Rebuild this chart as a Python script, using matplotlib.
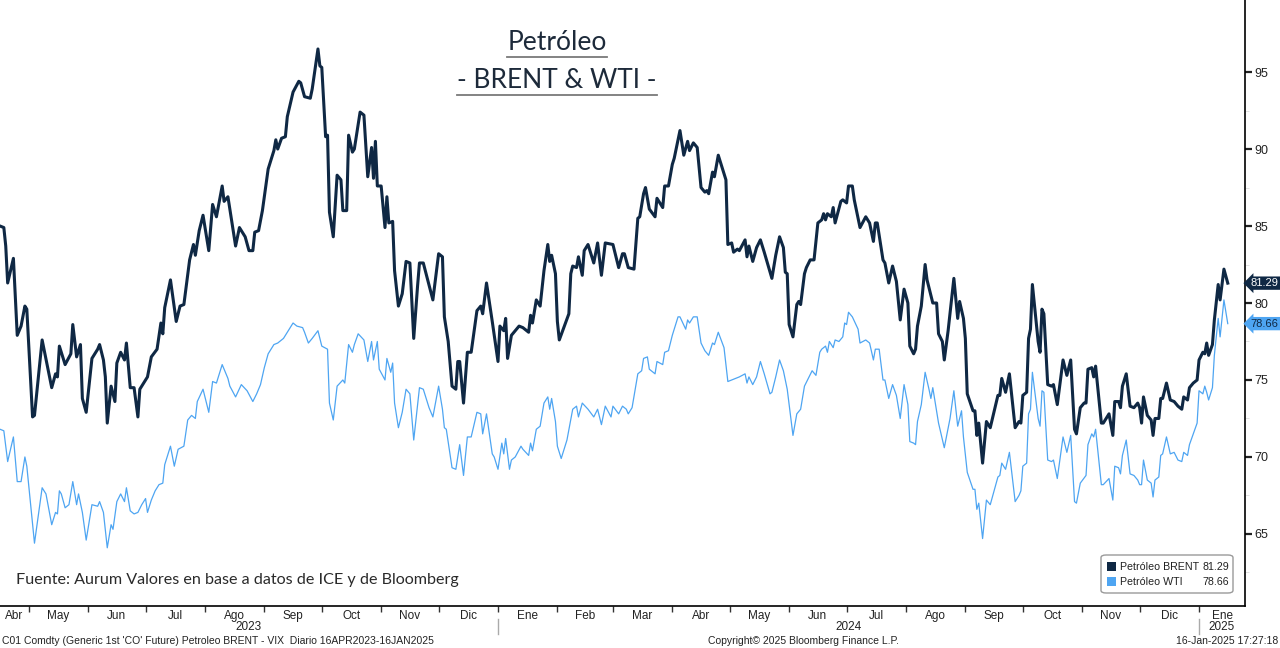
import matplotlib
matplotlib.use("Agg")
import matplotlib.pyplot as plt
import pandas as pd
from matplotlib.patches import FancyBboxPatch, Rectangle
from matplotlib.lines import Line2D
from matplotlib.transforms import blended_transform_factory, IdentityTransform

# dias desde el 16-abr-2023
start = pd.Timestamp("2023-04-16")
end_axis = pd.Timestamp("2025-01-25")

brent_day = [0, 2, 3, 4, 7, 9, 11, 13, 14, 17, 18, 22, 27, 29, 30, 31, 34, 37, 38, 40,
             42, 43, 45, 48, 51, 52, 54, 55, 56, 58, 60, 61, 63, 65, 66, 68, 70, 72, 73, 77,
             79, 82, 84, 85, 86, 89, 92, 94, 96, 99, 101, 102, 104, 106, 109, 111, 113, 116, 117, 119,
             123, 125, 128, 130, 132, 133, 135, 137, 140, 143, 144, 145, 147, 149, 150, 153, 156, 157, 159, 162,
             163, 166, 167, 168, 170, 171, 172, 174, 176, 178, 179, 181, 182, 184, 185, 188, 190, 192, 194, 195,
             196, 197, 199, 201, 202, 203, 205, 206, 208, 210, 212, 214, 216, 218, 219, 221, 226, 229, 231, 232,
             234, 236, 238, 239, 240, 242, 244, 246, 249, 251, 252, 254, 257, 260, 261, 263, 264, 265, 267, 271,
             273, 276, 277, 278, 280, 282, 284, 286, 287, 288, 290, 291, 292, 297, 298, 299, 301, 302, 304, 305,
             307, 310, 312, 314, 316, 320, 321, 323, 325, 326, 328, 331, 333, 334, 336, 337, 339, 342, 343, 346,
             347, 349, 351, 352, 355, 357, 359, 360, 362, 364, 366, 368, 369, 370, 372, 373, 375, 379, 380, 382,
             383, 385, 386, 389, 390, 391, 393, 395, 397, 399, 403, 405, 407, 409, 410, 411, 412, 414, 416, 417,
             418, 420, 421, 423, 425, 427, 429, 430, 431, 432, 434, 435, 436, 439, 440, 442, 443, 445, 446, 449,
             452, 454, 456, 457, 458, 461, 462, 464, 466, 468, 470, 472, 474, 475, 477, 478, 479, 481, 483, 484,
             487, 489, 490, 492, 493, 495, 498, 500, 501, 503, 504, 505, 508, 509, 510, 511, 513, 515, 517, 521,
             522, 523, 525, 527, 530, 532, 533, 534, 536, 537, 538, 539, 542, 543, 544, 545, 547, 549, 550, 552,
             555, 557, 559, 561, 562, 564, 566, 567, 568, 570, 571, 572, 575, 576, 579, 581, 582, 584, 585, 586,
             588, 590, 592, 594, 595, 596, 597, 599, 601, 602, 603, 605, 606, 607, 609, 611, 613, 615, 617, 618,
             620, 621, 623, 625, 626, 628, 629, 630, 631, 633, 634, 636, 637, 639, 641]
brent_val = [85.0, 84.9, 83.7, 81.3, 82.9, 77.9, 78.5, 79.8, 79.6, 72.6, 72.7, 77.6, 74.5, 75.4, 75.2, 77.2, 76.0, 76.7, 78.6, 76.5,
             77.3, 73.8, 72.9, 76.4, 77.0, 77.3, 76.3, 75.2, 72.2, 74.6, 73.6, 76.1, 76.8, 76.3, 77.4, 74.5, 74.5, 72.6, 74.4, 75.2,
             76.5, 77.0, 78.7, 78.0, 79.7, 81.5, 78.8, 79.8, 79.9, 82.8, 83.8, 83.1, 84.7, 85.7, 83.4, 86.4, 85.6, 87.6, 86.6, 86.9,
             83.7, 84.9, 84.3, 83.4, 83.4, 84.6, 84.7, 86.0, 88.7, 89.9, 90.6, 90.0, 90.7, 90.8, 92.1, 93.7, 94.4, 94.3, 93.4, 93.3,
             93.9, 96.5, 95.4, 95.3, 90.8, 90.9, 85.9, 84.3, 88.3, 88.0, 86.0, 86.0, 90.9, 89.8, 90.0, 92.4, 92.2, 88.2, 90.1, 88.1,
             90.5, 87.6, 87.6, 84.9, 86.9, 85.2, 85.3, 82.1, 79.8, 80.6, 82.7, 82.6, 77.7, 81.1, 82.6, 82.6, 80.2, 83.2, 83.0, 79.1,
             77.5, 74.6, 74.4, 76.2, 76.2, 73.5, 76.8, 76.8, 79.5, 79.8, 79.3, 81.3, 78.8, 76.2, 78.5, 78.2, 79.0, 76.4, 77.9, 78.5,
             78.4, 78.1, 79.2, 78.7, 80.2, 79.8, 82.1, 83.8, 82.7, 83.1, 81.9, 78.8, 77.6, 79.3, 81.9, 82.4, 82.3, 83.0, 81.8, 83.4,
             83.8, 82.6, 83.9, 81.8, 83.9, 83.8, 83.3, 82.3, 83.2, 83.2, 82.3, 82.2, 85.5, 85.6, 87.1, 87.5, 86.1, 85.6, 86.8, 86.2,
             87.6, 87.6, 89.0, 89.4, 91.2, 89.6, 90.5, 89.9, 90.4, 90.1, 87.5, 87.2, 87.3, 87.1, 88.5, 88.2, 89.6, 88.0, 83.8, 83.9,
             83.3, 83.5, 83.4, 84.1, 83.0, 83.7, 82.7, 83.6, 84.1, 83.3, 81.6, 83.1, 84.3, 83.6, 82.0, 81.9, 78.6, 77.8, 79.9, 80.1,
             79.9, 81.9, 82.3, 82.8, 82.8, 85.2, 85.4, 85.8, 85.4, 85.8, 85.6, 86.2, 85.2, 86.6, 86.7, 86.5, 87.6, 87.6, 86.7, 84.9,
             85.6, 85.2, 84.0, 85.2, 85.2, 82.8, 82.6, 81.3, 82.4, 81.4, 78.9, 80.9, 80.0, 77.2, 76.7, 77.0, 78.5, 79.8, 82.5, 81.5,
             80.0, 80.0, 78.0, 77.5, 76.3, 78.2, 81.6, 79.0, 80.1, 79.0, 77.7, 74.1, 73.0, 73.0, 71.4, 72.2, 69.6, 72.3, 71.9, 74.0,
             74.0, 75.1, 74.2, 75.4, 71.9, 72.3, 72.2, 74.0, 74.2, 77.7, 78.3, 81.2, 77.5, 76.8, 79.6, 79.3, 74.7, 74.6, 74.7, 73.4,
             76.3, 75.3, 76.3, 71.8, 71.5, 73.2, 73.5, 73.5, 75.7, 75.8, 75.2, 75.9, 72.2, 72.2, 72.8, 71.4, 73.6, 73.6, 73.2, 74.6,
             75.4, 73.3, 73.2, 73.5, 73.2, 72.2, 73.9, 72.7, 72.4, 71.4, 72.5, 72.5, 73.8, 73.8, 74.8, 73.7, 73.6, 73.3, 73.1, 73.9,
             73.7, 74.5, 74.8, 75.0, 76.3, 76.8, 76.7, 77.4, 76.6, 77.3, 78.9, 81.2, 80.2, 82.2, 81.29]

wti_day = [0, 2, 4, 7, 9, 11, 13, 14, 18, 22, 24, 27, 29, 30, 31, 32, 34, 36, 38, 40,
           41, 43, 45, 48, 51, 52, 54, 56, 58, 59, 61, 63, 65, 66, 68, 70, 72, 74, 76, 77,
           79, 81, 83, 85, 86, 89, 91, 93, 96, 98, 100, 102, 103, 106, 109, 111, 113, 116, 119, 120,
           123, 126, 129, 132, 134, 136, 138, 140, 143, 145, 148, 150, 153, 155, 158, 159, 161, 163, 166, 168,
           171, 172, 174, 176, 179, 180, 182, 184, 185, 187, 190, 192, 194, 195, 197, 198, 201, 202, 204, 205,
           206, 208, 210, 212, 214, 216, 219, 221, 224, 226, 229, 231, 232, 233, 236, 238, 240, 242, 244, 246,
           249, 251, 252, 254, 257, 258, 260, 262, 263, 264, 266, 267, 269, 272, 273, 276, 277, 278, 280, 282,
           284, 286, 287, 288, 290, 291, 293, 296, 299, 301, 302, 304, 307, 310, 312, 314, 316, 319, 320, 323,
           325, 327, 328, 330, 333, 335, 336, 338, 339, 342, 343, 346, 347, 349, 351, 354, 355, 358, 359, 360,
           362, 364, 366, 368, 370, 372, 373, 375, 378, 380, 382, 384, 386, 389, 390, 391, 393, 395, 397, 399,
           402, 403, 405, 407, 409, 411, 413, 414, 416, 418, 420, 422, 424, 426, 428, 429, 431, 432, 433, 435,
           436, 438, 440, 441, 442, 443, 445, 448, 449, 452, 454, 456, 457, 459, 461, 462, 464, 466, 468, 470,
           472, 474, 475, 477, 478, 479, 481, 483, 485, 486, 487, 490, 493, 496, 498, 500, 502, 503, 505, 508,
           509, 510, 511, 513, 515, 517, 521, 522, 523, 525, 527, 530, 532, 533, 534, 536, 537, 538, 539, 542,
           543, 544, 545, 547, 549, 550, 552, 555, 557, 559, 561, 562, 564, 567, 568, 570, 571, 572, 575, 576,
           579, 581, 582, 584, 585, 586, 588, 590, 592, 594, 595, 596, 597, 599, 601, 602, 603, 605, 606, 607,
           609, 611, 613, 615, 617, 618, 620, 621, 623, 625, 626, 628, 629, 630, 631, 633, 634, 636, 637, 639,
           641]
wti_val = [71.8, 71.7, 69.7, 71.3, 68.4, 68.4, 70.0, 69.4, 64.4, 68.0, 67.6, 65.6, 66.4, 66.3, 67.8, 67.6, 66.7, 66.9, 68.4, 66.9,
           67.6, 66.4, 64.6, 66.9, 66.8, 67.1, 66.4, 64.1, 65.6, 65.3, 67.1, 67.6, 67.1, 68.0, 66.5, 66.3, 66.4, 66.9, 67.3, 66.4,
           67.2, 67.8, 68.2, 68.3, 69.5, 70.7, 69.4, 70.5, 70.7, 72.4, 72.7, 72.5, 73.6, 74.4, 72.9, 74.9, 74.8, 76.0, 75.1, 74.6,
           73.9, 74.7, 74.3, 73.6, 74.1, 74.7, 75.8, 76.7, 77.3, 77.4, 77.7, 78.1, 78.7, 78.5, 78.4, 78.1, 77.4, 77.7, 78.2, 77.2,
           77.0, 73.5, 72.4, 74.6, 75.0, 74.8, 77.3, 76.8, 77.3, 78.0, 77.6, 76.2, 77.5, 76.3, 77.5, 75.7, 75.0, 76.4, 75.5, 76.1,
           73.5, 71.9, 72.9, 74.4, 74.1, 71.1, 74.5, 74.4, 73.2, 72.6, 74.6, 73.1, 71.9, 71.8, 69.3, 69.2, 70.8, 68.8, 71.3, 71.3,
           72.9, 72.8, 71.5, 72.8, 70.2, 70.0, 69.2, 70.9, 70.2, 71.2, 69.2, 69.8, 70.0, 70.7, 70.5, 70.1, 70.9, 70.4, 71.8, 72.0,
           73.5, 73.9, 73.1, 73.8, 72.3, 70.7, 69.9, 71.1, 73.1, 73.3, 72.6, 73.5, 73.1, 72.6, 73.1, 72.1, 73.3, 72.6, 73.3, 72.8,
           73.3, 73.1, 72.8, 73.2, 75.4, 75.6, 76.4, 76.5, 75.7, 75.4, 76.2, 76.0, 76.8, 76.9, 77.9, 79.1, 79.1, 78.3, 78.9, 78.7,
           79.1, 79.1, 77.4, 76.9, 76.6, 77.4, 77.3, 78.1, 77.1, 74.9, 75.0, 75.1, 75.2, 75.4, 74.8, 75.2, 74.7, 75.2, 76.2, 75.4,
           74.1, 74.2, 75.2, 76.3, 75.6, 74.4, 72.4, 71.4, 72.8, 73.1, 74.6, 75.1, 75.6, 75.3, 76.8, 77.0, 77.2, 76.8, 77.5, 77.1,
           77.6, 77.5, 77.8, 78.7, 78.6, 79.4, 79.1, 78.3, 77.4, 77.6, 77.4, 76.3, 77.0, 77.0, 75.0, 75.0, 73.8, 74.7, 74.0, 72.5,
           74.7, 73.4, 71.0, 70.9, 70.8, 72.3, 73.4, 75.5, 74.4, 73.8, 74.5, 72.2, 70.6, 72.5, 74.3, 72.0, 73.0, 71.3, 69.0, 67.9,
           67.9, 66.6, 67.0, 64.7, 67.2, 66.9, 68.7, 68.8, 69.6, 69.2, 70.3, 67.1, 67.5, 67.8, 69.4, 69.6, 72.8, 73.1, 75.5, 72.5,
           72.0, 74.3, 74.2, 69.8, 69.7, 69.8, 68.6, 71.3, 70.3, 71.4, 67.1, 67.0, 68.3, 68.8, 70.8, 71.5, 71.3, 71.8, 68.2, 68.2,
           68.6, 67.2, 69.4, 69.3, 68.9, 70.1, 71.1, 68.9, 68.8, 68.5, 68.2, 68.2, 69.8, 68.5, 68.3, 67.4, 68.5, 68.7, 70.1, 70.2,
           71.3, 70.2, 70.3, 69.8, 69.7, 70.3, 70.1, 70.8, 71.5, 72.2, 74.3, 74.1, 74.6, 74.2, 73.7, 74.5, 76.6, 79.0, 77.8, 80.2,
           78.66]

yticks = [65, 70, 75, 80, 85, 90, 95]
meses = ["Ene", "Feb", "Mar", "Abr", "May", "Jun", "Jul", "Ago", "Sep", "Oct", "Nov", "Dic"]
brent_label = "Petróleo BRENT"
wti_label = "Petróleo WTI"

navy = "#0f2844"
light_blue = "#4ea5f2"
title_color = "#1d2a3a"

plt.rcParams["font.family"] = ["Liberation Sans", "DejaVu Sans"]

W, H = 1280, 648
fig = plt.figure(figsize=(W / 100, H / 100), dpi=100)
ax = fig.add_axes([0, 42 / H, 1245 / W, 606 / H])

brent_dates = start + pd.to_timedelta(brent_day, unit="D")
wti_dates = start + pd.to_timedelta(wti_day, unit="D")
ax.plot(wti_dates, wti_val, color=light_blue, lw=0.9, solid_joinstyle="round")
ax.plot(brent_dates, brent_val, color=navy, lw=2.2, solid_joinstyle="round")

ax.set_xlim(start, end_axis)
ax.set_ylim(60.32, 99.68)

for s in ["left", "top"]:
    ax.spines[s].set_visible(False)
ax.spines["right"].set_linewidth(1.2)
ax.spines["bottom"].set_linewidth(1.2)

# eje y a la derecha
ax.yaxis.tick_right()
ax.set_yticks(yticks)
ax.set_yticks([62.5 + 5 * i for i in range(7)], minor=True)
ax.tick_params(axis="y", which="major", direction="out", length=5, width=1.6,
               labelsize=9, pad=2, colors="#222222")
ax.tick_params(axis="y", which="minor", direction="out", length=3, width=0.6, color="#dddddd")

# eje x: marcas al inicio de mes, etiquetas centradas
month_starts = pd.date_range("2023-05-01", "2025-01-01", freq="MS")
ax.set_xticks(month_starts)
ax.set_xticklabels([])
ax.tick_params(axis="x", which="major", direction="out", length=4, width=1.0, color="#333333")

bounds = pd.date_range("2023-04-01", "2025-02-01", freq="MS")
mids, labs = [], []
for a, b in zip(bounds[:-1], bounds[1:]):
    a2, b2 = max(a, start), min(b, end_axis)
    mids.append(a2 + (b2 - a2) / 2)
    labs.append(meses[a.month - 1])
ax.set_xticks(mids, minor=True)
ax.set_xticklabels(labs, minor=True)
ax.tick_params(axis="x", which="minor", length=0, labelsize=8.5, pad=3, colors="#222222")

trans = blended_transform_factory(ax.transData, ax.transAxes)
years = [2023, 2024, 2025]
for y in years:
    a = max(pd.Timestamp(f"{y}-01-01"), start)
    b = min(pd.Timestamp(f"{y + 1}-01-01"), end_axis)
    ax.text(a + (b - a) / 2, -0.035, str(y), transform=trans, ha="center", va="center",
            fontsize=8.5, color="#222222", clip_on=False)
    if y > 2023:
        ax.add_line(Line2D([a, a], [-0.021, -0.047], transform=trans, color="#aaaaaa",
                           lw=1.0, clip_on=False))

# etiquetas de ultimo valor
ytrans = blended_transform_factory(ax.transAxes, ax.transData)
ax.annotate(f"{brent_val[-1]:.2f}", xy=(1, brent_val[-1]), xycoords=ytrans, xytext=(4, 0),
            textcoords="offset points", ha="left", va="center", fontsize=8, color="white",
            bbox=dict(boxstyle="larrow,pad=0.15", fc=navy, ec="none"), annotation_clip=False)
ax.annotate(f"{wti_val[-1]:.2f}", xy=(1, wti_val[-1]), xycoords=ytrans, xytext=(4, 0),
            textcoords="offset points", ha="left", va="center", fontsize=8, color=navy,
            bbox=dict(boxstyle="larrow,pad=0.15", fc=light_blue, ec="none"), annotation_clip=False)

# leyenda
def fx(x):
    return x / W

def fy(y):
    return 1 - y / H

box = FancyBboxPatch((fx(1101), fy(593)), fx(1233) - fx(1101), fy(555) - fy(593),
                     boxstyle="round,pad=0,rounding_size=0.004", transform=fig.transFigure,
                     fc="white", ec="#9a9a9a", lw=1.0)
fig.add_artist(box)
for row, (lab, val, col) in enumerate([(brent_label, brent_val[-1], navy),
                                       (wti_label, wti_val[-1], light_blue)]):
    yc = 567 + row * 15
    fig.add_artist(Rectangle((fx(1107), fy(yc + 4)), fx(9), fy(0) - fy(9),
                             transform=fig.transFigure, fc=col, ec="none"))
    fig.text(fx(1120), fy(yc), lab, ha="left", va="center", fontsize=7.7, color="#222222")
    fig.text(fx(1229), fy(yc), f"{val:.2f}", ha="right", va="center", fontsize=7.7, color="#222222")

# titulo subrayado
t1 = fig.text(fx(557), fy(43), "Petróleo", ha="center", va="center", fontsize=19,
              color=title_color, family=["Lato", "DejaVu Sans"])
t2 = fig.text(fx(557), fy(81), "- BRENT & WTI -", ha="center", va="center", fontsize=19,
              color=title_color, family=["Lato", "DejaVu Sans"])
fig.text(fx(16), fy(580), "Fuente: Aurum Valores en base a datos de ICE y de Bloomberg",
         ha="left", va="center", fontsize=11.6, color="#2a2a2a", family=["Lato", "DejaVu Sans"])

# pie de Bloomberg
fig.text(fx(2), fy(641), "C01 Comdty (Generic 1st 'CO' Future) Petroleo BRENT - VIX  Diario 16APR2023-16JAN2025",
         ha="left", va="center", fontsize=7.5, color="#222222")
fig.text(fx(708), fy(641), "Copyright© 2025 Bloomberg Finance L.P.",
         ha="left", va="center", fontsize=7.5, color="#222222")
fig.text(fx(1278), fy(641), "16-Jan-2025 17:27:18",
         ha="right", va="center", fontsize=7.5, color="#222222")

fig.canvas.draw()
renderer = fig.canvas.get_renderer()
for t in (t1, t2):
    bb = t.get_window_extent(renderer)
    fig.add_artist(Line2D([bb.x0, bb.x1], [bb.y0 - 1, bb.y0 - 1], transform=IdentityTransform(),
                          color="#7a7a7a", lw=1.3))

fig.savefig("out.png", dpi=100, facecolor="white")
